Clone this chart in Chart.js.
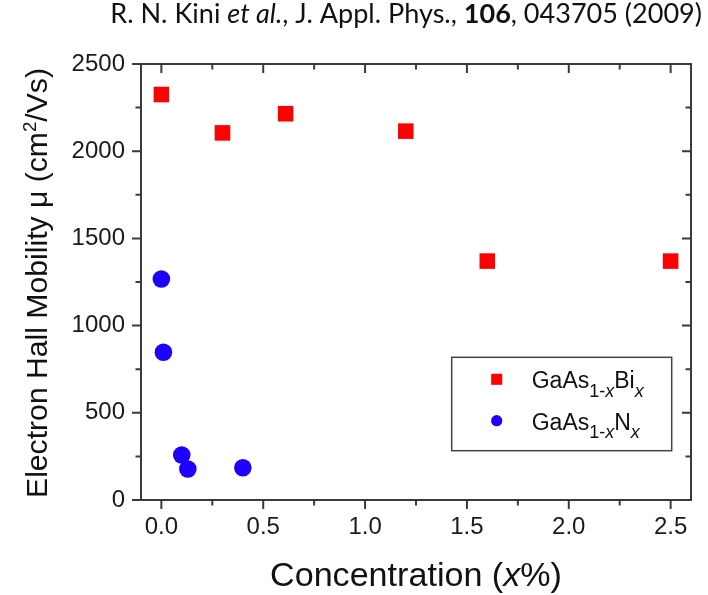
<!DOCTYPE html>
<html><head><meta charset="utf-8">
<script src="https://cdn.jsdelivr.net/npm/chart.js@4.4.0/dist/chart.umd.min.js"></script>
<style>html,body{margin:0;padding:0;background:#fff;} canvas{display:block;}</style>
</head><body>
<canvas id="c" width="708" height="595"></canvas>
<script>
// ---- data ----
const biX = [0.0, 0.30, 0.61, 1.20, 1.60, 2.50];
const biY = [2325, 2105, 2215, 2115, 1370, 1370];
const nX = [0.0, 0.01, 0.10, 0.13, 0.40];
const nY = [1267, 847, 258, 178, 185];
const xMajorTicks = [0, 0.5, 1.0, 1.5, 2.0, 2.5];
const xTickLabels = ['0.0', '0.5', '1.0', '1.5', '2.0', '2.5'];
const xMinorTicks = [0.25, 0.75, 1.25, 1.75, 2.25];
const yMajorTicks = [0, 500, 1000, 1500, 2000, 2500];
const yTickLabels = ['0', '500', '1000', '1500', '2000', '2500'];
const yMinorTicks = [250, 750, 1250, 1750, 2250];

const SANS = '"Liberation Sans", Arial, sans-serif';
const TITLE_FONT = 'Lato, "Open Sans", sans-serif';
const AXIS_COLOR = '#3a3a3a';
const RED = '#ff0000';
const BLUE = '#1e00ff';

function zip(xs, ys) { return xs.map((x, i) => ({ x: x, y: ys[i] })); }

function runsWidth(ctx, runs) {
  let w = 0;
  runs.forEach(r => { ctx.font = r.font; w += ctx.measureText(r.t).width; });
  return w;
}
function drawRuns(ctx, runs, x, y, align) {
  const w = runsWidth(ctx, runs);
  let cx = align === 'center' ? x - w / 2 : (align === 'right' ? x - w : x);
  ctx.textAlign = 'left';
  ctx.textBaseline = 'alphabetic';
  runs.forEach(r => {
    ctx.font = r.font;
    ctx.fillText(r.t, cx, y + (r.dy || 0));
    cx += ctx.measureText(r.t).width;
  });
}

const decor = {
  id: 'decor',
  beforeDatasetsDraw(chart) {
    const ctx = chart.ctx, a = chart.chartArea;
    const xs = chart.scales.x, ys = chart.scales.y;
    ctx.save();
    ctx.strokeStyle = AXIS_COLOR;
    ctx.lineWidth = 2;
    ctx.strokeRect(a.left, a.top, a.right - a.left, a.bottom - a.top);
    const MAJ = 9, MIN = 5.5;
    ctx.beginPath();
    xMajorTicks.forEach(v => {
      const p = xs.getPixelForValue(v);
      ctx.moveTo(p, a.bottom); ctx.lineTo(p, a.bottom + MAJ);
      ctx.moveTo(p, a.top); ctx.lineTo(p, a.top + MAJ);
    });
    xMinorTicks.forEach(v => {
      const p = xs.getPixelForValue(v);
      ctx.moveTo(p, a.bottom); ctx.lineTo(p, a.bottom + MIN);
      ctx.moveTo(p, a.top); ctx.lineTo(p, a.top + MIN);
    });
    yMajorTicks.forEach(v => {
      const p = ys.getPixelForValue(v);
      ctx.moveTo(a.left, p); ctx.lineTo(a.left - MAJ, p);
      ctx.moveTo(a.right, p); ctx.lineTo(a.right - MAJ, p);
    });
    yMinorTicks.forEach(v => {
      const p = ys.getPixelForValue(v);
      ctx.moveTo(a.left, p); ctx.lineTo(a.left - MIN, p);
      ctx.moveTo(a.right, p); ctx.lineTo(a.right - MIN, p);
    });
    ctx.stroke();
    ctx.restore();
  },
  afterDraw(chart) {
    const ctx = chart.ctx, a = chart.chartArea;
    ctx.save();
    ctx.fillStyle = '#111';

    // citation title
    const mk = (size) => [
      { t: 'R. N. Kini ', font: size + 'px ' + TITLE_FONT },
      { t: 'et al.', font: 'italic ' + size + 'px ' + TITLE_FONT },
      { t: ', J. Appl. Phys., ', font: size + 'px ' + TITLE_FONT },
      { t: '106', font: 'bold ' + size + 'px ' + TITLE_FONT },
      { t: ', 043705 (2009)', font: size + 'px ' + TITLE_FONT }
    ];
    let ts = 25;
    ts = ts * 592 / runsWidth(ctx, mk(ts));
    drawRuns(ctx, mk(ts), 702, 23, 'right');

    // x axis title
    const mkx = (s) => [
      { t: 'Concentration (', font: s + 'px ' + SANS },
      { t: 'x', font: 'italic ' + s + 'px ' + SANS },
      { t: '%)', font: s + 'px ' + SANS }
    ];
    let xsz = 33;
    xsz = xsz * 292 / runsWidth(ctx, mkx(xsz));
    drawRuns(ctx, mkx(xsz), (a.left + a.right) / 2, 586, 'center');

    // y axis title
    const mky = (s) => [
      { t: 'Electron Hall Mobility \u03bc (cm', font: s + 'px ' + SANS },
      { t: '2', font: (s * 0.62) + 'px ' + SANS, dy: -s * 0.38 },
      { t: '/Vs)', font: s + 'px ' + SANS }
    ];
    let ysz = 30;
    ysz = ysz * 430 / runsWidth(ctx, mky(ysz));
    ctx.save();
    ctx.translate(47, (a.top + a.bottom) / 2 + 1);
    ctx.rotate(-Math.PI / 2);
    drawRuns(ctx, mky(ysz), 0, 0, 'center');
    ctx.restore();

    // legend
    const L = { left: 451.7, top: 357.3, right: 671.7, bottom: 450.7 };
    ctx.strokeStyle = '#444';
    ctx.lineWidth = 1.5;
    ctx.strokeRect(L.left, L.top, L.right - L.left, L.bottom - L.top);
    const big = 23, sub = 18, off = 8.5;
    const entries = [
      { ds: 0, r: 7.8, cy: 379.3, runs: [
        { t: 'GaAs', font: big + 'px ' + SANS },
        { t: '1-', font: sub + 'px ' + SANS, dy: off },
        { t: 'x', font: 'italic ' + sub + 'px ' + SANS, dy: off },
        { t: 'Bi', font: big + 'px ' + SANS },
        { t: 'x', font: 'italic ' + sub + 'px ' + SANS, dy: off }
      ] },
      { ds: 1, r: 5.6, cy: 420.7, runs: [
        { t: 'GaAs', font: big + 'px ' + SANS },
        { t: '1-', font: sub + 'px ' + SANS, dy: off },
        { t: 'x', font: 'italic ' + sub + 'px ' + SANS, dy: off },
        { t: 'N', font: big + 'px ' + SANS },
        { t: 'x', font: 'italic ' + sub + 'px ' + SANS, dy: off }
      ] }
    ];
    entries.forEach(e => {
      const d = chart.data.datasets[e.ds];
      ctx.fillStyle = d.backgroundColor;
      Chart.helpers.drawPoint(ctx, { pointStyle: d.pointStyle, radius: e.r, rotation: 0, borderWidth: 0 }, 496.7, e.cy);
      ctx.fillStyle = '#111';
      drawRuns(ctx, e.runs, 531.7, e.cy + 9, 'left');
    });
    ctx.restore();
  }
};

new Chart(document.getElementById('c'), {
  type: 'scatter',
  data: {
    datasets: [
      { label: 'GaAs1-xBix', data: zip(biX, biY), pointStyle: 'rect', pointRadius: 11,
        backgroundColor: RED, borderWidth: 0, showLine: false },
      { label: 'GaAs1-xNx', data: zip(nX, nY), pointStyle: 'circle', pointRadius: 8.8,
        backgroundColor: BLUE, borderWidth: 0, showLine: false }
    ]
  },
  options: {
    responsive: false,
    animation: false,
    devicePixelRatio: 1,
    layout: { padding: { top: 64, right: 17, left: 0, bottom: 0 } },
    plugins: { legend: { display: false }, tooltip: { enabled: false }, title: { display: false } },
    scales: {
      x: {
        type: 'linear', position: 'bottom', min: -0.1, max: 2.6,
        afterBuildTicks: s => { s.ticks = xMajorTicks.map(v => ({ value: v })); },
        afterFit: s => { s.height = 95; },
        grid: { drawOnChartArea: false, color: 'rgba(0,0,0,0)', tickLength: 9 },
        border: { display: false },
        ticks: {
          padding: 4, color: '#1a1a1a', font: { family: SANS, size: 24 }, maxRotation: 0,
          callback: v => { const i = xMajorTicks.indexOf(v); return i >= 0 ? xTickLabels[i] : ''; }
        }
      },
      y: {
        type: 'linear', min: 0, max: 2500,
        afterBuildTicks: s => { s.ticks = yMajorTicks.map(v => ({ value: v })); },
        afterFit: s => { s.width = 141; },
        grid: { drawOnChartArea: false, color: 'rgba(0,0,0,0)', tickLength: 9 },
        border: { display: false },
        ticks: {
          padding: 7, color: '#1a1a1a', font: { family: SANS, size: 24 },
          callback: v => { const i = yMajorTicks.indexOf(v); return i >= 0 ? yTickLabels[i] : ''; }
        }
      }
    }
  },
  plugins: [decor]
});
</script>
</body></html>
